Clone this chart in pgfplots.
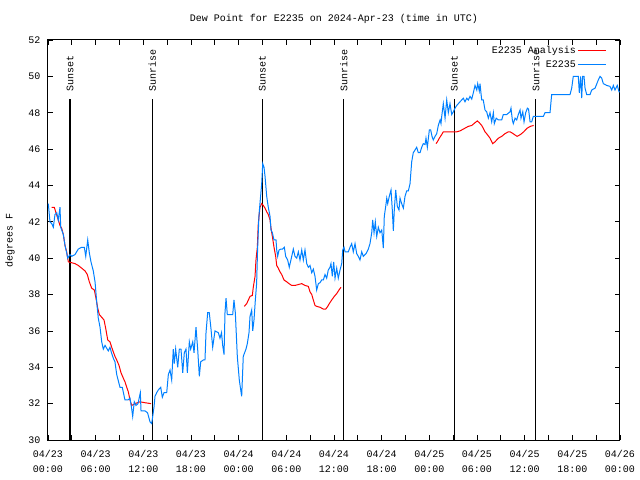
\documentclass[border=0pt]{standalone}
\usepackage{fontspec}
\setmainfont{Liberation Mono}
\usepackage{pgfplots}
\pgfplotsset{compat=1.18}
\definecolor{anred}{RGB}{255,0,0}
\definecolor{obsblue}{RGB}{0,128,255}
\begin{document}
\begin{tikzpicture}
\path[use as bounding box] (-48bp,-40bp) rectangle (592bp,440bp);
\begin{axis}[
  at={(0,0)}, anchor=south west,
  scale only axis, width=572bp, height=400bp,
  clip=false,
  xmin=0, xmax=72, ymin=30, ymax=52,
  xtick={0,6,...,72},
  xticklabels={{04/23\\00:00},{04/23\\06:00},{04/23\\12:00},{04/23\\18:00},{04/24\\00:00},{04/24\\06:00},{04/24\\12:00},{04/24\\18:00},{04/25\\00:00},{04/25\\06:00},{04/25\\12:00},{04/25\\18:00},{04/26\\00:00}},
  minor x tick num=1,
  ytick={30,32,...,52},
  tick align=inside,
  major tick length=5bp, minor tick length=5bp,
  every tick/.style={black, line width=0.8bp},
  axis line style={black, line width=1bp},
  /pgf/number format/assume math mode=true,
  font=\fontsize{10bp}{15bp}\selectfont,
  tick label style={font=\fontsize{10bp}{15bp}\selectfont},
  x tick label style={align=center, yshift=-7bp},
  y tick label style={xshift=-4bp},
  ylabel={degrees F},
  ylabel style={at={(axis description cs:-0.0664,0.5)}, anchor=center},
  legend style={at={(1,1)}, anchor=north east, xshift=-10bp, yshift=-2bp, draw=none, fill=none, row sep=1.5bp, font=\fontsize{10bp}{12bp}\selectfont},
  legend cell align=right,
  legend plot pos=right,
  legend image code/.code={\draw[#1] (0bp,0bp) -- (28bp,0bp);},
]
% sunrise / sunset lines
\addplot[black, line width=1.2bp, forget plot] coordinates {(2.77,30) (2.77,48.76)};
\addplot[black, line width=1.2bp, forget plot] coordinates {(13.13,30) (13.13,48.76)};
\addplot[black, line width=1.2bp, forget plot] coordinates {(26.98,30) (26.98,48.76)};
\addplot[black, line width=1.2bp, forget plot] coordinates {(37.22,30) (37.22,48.76)};
\addplot[black, line width=1.2bp, forget plot] coordinates {(51.15,30) (51.15,48.76)};
\addplot[black, line width=1.2bp, forget plot] coordinates {(61.39,30) (61.39,48.76)};
\node[rotate=90, anchor=west, inner sep=0pt] at (axis cs:2.77,49.14) {Sunset};
\node[rotate=90, anchor=west, inner sep=0pt] at (axis cs:13.13,49.14) {Sunrise};
\node[rotate=90, anchor=west, inner sep=0pt] at (axis cs:26.98,49.14) {Sunset};
\node[rotate=90, anchor=west, inner sep=0pt] at (axis cs:37.22,49.14) {Sunrise};
\node[rotate=90, anchor=west, inner sep=0pt] at (axis cs:51.15,49.14) {Sunset};
\node[rotate=90, anchor=west, inner sep=0pt] at (axis cs:61.39,49.14) {Sunrise};
% analysis
\addplot[anred, line width=1bp] coordinates {
(0.47,42.8) (0.79,42.8) (0.97,42.55) (1.22,42.2) (1.51,41.8) (1.72,41.65) (1.93,41.3) (2.14,40.7) (2.35,40.35) (2.56,39.8)
(2.98,39.75) (3.40,39.7) (3.81,39.6) (4.24,39.45) (4.66,39.3) (4.95,39.1) (5.20,38.7) (5.50,38.35) (5.83,38.25) (6.04,37.8)
(6.26,37.25) (6.46,36.9) (6.76,36.75) (7.05,36.6) (7.26,36.15) (7.52,35.5) (7.80,35.4) (8.02,35.1) (8.22,34.85) (8.43,34.6)
(8.65,34.4) (8.94,34.1) (9.19,33.7) (9.48,33.4) (9.69,33.2) (9.91,32.9) (10.11,32.65) (10.32,32.2) (10.54,31.9) (10.74,31.95)
(10.95,32.0) (11.58,32.1) (12.21,32.05) (12.97,32.0)};
\addlegendentry{E2235 Analysis}
\addplot[anred, line width=1bp, forget plot] coordinates {
(24.71,37.35) (25.01,37.5) (25.43,37.9) (25.72,37.95) (25.84,38.4) (26.06,39.0) (26.18,39.9) (26.35,40.6) (26.47,41.9) (26.68,42.8)
(26.90,43.0) (27.10,42.9) (27.32,42.75) (27.53,42.55) (27.73,42.4) (27.95,42.1) (28.07,41.65) (28.24,41.2) (28.45,40.6) (28.66,40.1)
(28.79,39.6) (28.99,39.45) (29.20,39.25) (29.42,39.1) (29.71,38.8) (30.05,38.7) (30.34,38.6) (30.68,38.5) (31.09,38.5) (31.51,38.55)
(31.94,38.6) (32.35,38.5) (32.77,38.45) (32.98,38.15) (33.20,38.0) (33.40,37.7) (33.61,37.4) (33.82,37.35) (34.24,37.3) (34.66,37.2)
(34.96,37.2) (35.21,37.35) (35.41,37.5) (35.71,37.7) (36.04,37.9) (36.34,38.05) (36.63,38.25) (36.88,38.4)};
\addplot[anred, line width=1bp, forget plot] coordinates {
(48.84,46.3) (49.01,46.4) (49.26,46.6) (49.56,46.8) (49.76,46.95) (50.23,46.95) (51.02,46.95) (51.45,46.95) (51.86,47.0) (52.07,47.05)
(52.49,47.15) (52.91,47.25) (53.34,47.3) (53.75,47.45) (54.04,47.55) (54.29,47.45) (54.59,47.3) (54.79,47.15) (55.01,46.95) (55.30,46.8)
(55.64,46.6) (55.98,46.3) (56.27,46.4) (56.69,46.6) (57.11,46.7) (57.53,46.85) (57.95,46.95) (58.16,46.95) (58.37,46.9) (58.71,46.8)
(59.05,46.7) (59.47,46.8) (59.88,46.95) (60.31,47.15) (60.72,47.25) (61.13,47.3)};
% observations
\addplot[obsblue, line width=1bp] coordinates {
(0.04,43.0) (0.25,42.0) (0.47,41.9) (0.67,41.7) (0.88,42.4) (1.10,42.5) (1.30,42.1) (1.51,42.8) (1.60,41.7) (1.93,41.3)
(2.14,40.7) (2.35,40.3) (2.48,40.0) (2.77,40.2) (2.98,40.1) (3.40,40.2) (3.81,40.5) (4.24,40.6) (4.57,40.6) (4.75,40.1)
(5.00,41.0) (5.20,40.3) (5.41,39.8) (5.70,39.3) (5.92,38.7) (6.13,37.6) (6.33,36.7) (6.55,36.2) (6.76,35.4) (6.96,35.0)
(7.18,35.2) (7.59,34.9) (7.80,35.1) (7.99,34.8) (8.22,34.5) (8.43,34.3) (8.65,33.6) (9.06,32.9) (9.35,32.9) (9.69,32.2)
(10.07,32.2) (10.32,32.3) (10.54,31.7) (10.66,31.3) (10.86,32.1) (11.08,31.9) (11.33,32.0) (11.62,32.6) (11.71,31.6) (12.21,31.6)
(12.53,31.5) (12.84,31.0) (13.05,30.9) (13.18,31.3) (13.34,31.8) (13.47,32.4) (13.68,32.6) (13.88,32.75) (14.19,32.9) (14.39,32.35)
(14.60,32.6) (14.94,32.6) (15.15,33.6) (15.36,33.85) (15.57,33.3) (15.77,35.0) (15.90,34.2) (16.07,35.0) (16.33,34.0) (16.53,35.0)
(16.74,35.0) (16.96,33.7) (17.16,34.8) (17.37,35.0) (17.54,33.7) (17.79,35.4) (17.96,35.0) (18.22,35.4) (18.38,34.8) (18.63,36.2)
(18.84,35.0) (19.05,33.5) (19.22,34.3) (19.55,34.4) (19.76,34.4) (19.89,35.9) (20.10,37.0) (20.30,37.0) (20.52,36.1) (20.73,35.1)
(21.02,36.0) (21.44,35.9) (21.65,35.6) (21.84,35.9) (21.99,35.2) (22.16,34.7) (22.28,37.0) (22.41,37.8) (22.57,36.9) (23.25,36.9)
(23.41,37.7) (23.58,37.0) (23.83,34.6) (24.08,33.3) (24.26,32.75) (24.38,32.4) (24.58,34.6) (24.92,35.0) (25.09,35.3) (25.30,35.9)
(25.43,36.8) (25.64,37.15) (25.77,36.0) (25.93,36.6) (26.10,37.7) (26.26,38.6) (26.38,40.45) (26.55,42.3) (26.68,43.0) (26.90,44.1)
(27.03,45.2) (27.19,45.0) (27.32,44.5) (27.53,43.4) (27.73,42.8) (27.95,42.3) (28.07,41.55) (28.24,41.4) (28.45,41.0) (28.70,41.0)
(28.79,40.45) (28.91,40.1) (29.08,40.45) (29.29,40.5) (29.52,40.5) (29.75,40.6) (29.92,40.1) (30.17,39.9) (30.37,39.5) (30.68,40.1)
(30.88,40.5) (31.09,40.1) (31.31,40.0) (31.51,40.35) (31.72,39.9) (31.94,40.45) (32.14,39.9) (32.35,40.45) (32.57,39.7) (32.77,39.5)
(32.98,39.6) (33.20,39.2) (33.40,39.4) (33.61,39.0) (33.82,38.25) (34.03,38.6) (34.24,38.65) (34.45,38.8) (34.66,38.8) (34.87,39.1)
(35.08,38.9) (35.28,39.35) (35.50,39.5) (35.62,39.7) (35.79,39.0) (35.96,39.8) (36.13,38.9) (36.34,39.45) (36.54,38.9) (36.76,39.35)
(36.97,39.7) (37.10,40.45) (37.26,40.6) (37.39,40.35) (37.80,40.35) (38.02,40.6) (38.23,40.8) (38.43,40.35) (38.65,40.8) (38.86,40.25)
(39.06,40.1) (39.27,39.9) (39.49,40.35) (39.69,40.1) (40.03,40.25) (40.32,40.5) (40.53,40.8) (40.75,41.4) (40.87,42.1) (41.04,41.4)
(41.20,42.0) (41.38,41.2) (41.58,41.7) (41.79,41.4) (42.01,41.55) (42.21,40.55) (42.33,42.3) (42.51,42.85) (42.64,43.3) (42.76,43.0)
(42.96,43.4) (43.18,43.75) (43.34,42.65) (43.47,41.5) (43.59,42.65) (43.77,43.75) (43.97,42.85) (44.18,42.65) (44.31,43.3) (44.52,43.0)
(44.73,42.75) (44.94,43.4) (45.15,43.7) (45.36,43.7) (45.57,44.1) (45.78,45.3) (45.98,45.8) (46.20,45.95) (46.41,46.1) (46.61,45.8)
(46.83,45.8) (47.04,46.1) (47.24,46.3) (47.46,46.25) (47.58,46.6) (47.75,46.1) (48.00,47.05) (48.17,47.05) (48.34,46.7) (48.50,46.5)
(48.72,46.7) (48.93,46.85) (49.13,47.3) (49.35,47.6) (49.47,47.4) (49.56,47.8) (49.76,48.5) (49.98,47.7) (50.19,48.7) (50.39,48.0)
(50.60,48.5) (50.82,47.9) (51.02,48.05) (51.23,48.25) (51.45,48.4) (51.86,48.6) (52.28,48.8) (52.49,48.6) (52.71,48.8) (52.91,48.7)
(53.12,48.9) (53.34,48.75) (53.54,49.1) (53.75,49.5) (53.97,49.25) (54.09,49.6) (54.29,49.2) (54.38,49.6) (54.59,48.7) (54.79,48.7)
(55.01,48.15) (55.22,48.05) (55.43,47.7) (55.64,48.0) (55.85,47.5) (56.06,48.0) (56.18,47.4) (56.42,47.7) (56.69,47.6) (57.11,47.6)
(57.31,47.9) (57.74,47.9) (58.16,48.05) (58.28,48.25) (58.45,47.6) (58.57,47.4) (58.79,47.7) (59.00,47.6) (59.20,47.9) (59.42,48.15)
(59.54,47.7) (59.76,48.05) (59.92,47.5) (60.13,48.0) (60.34,48.25) (60.49,48.2) (60.68,47.5) (60.89,47.5) (61.02,47.7) (61.10,47.8)
(62.35,47.8) (62.56,48.0) (63.19,48.0) (63.40,49.0) (65.71,49.0) (65.92,49.35) (66.12,50.0) (66.75,50.0) (66.88,49.1) (67.05,50.0)
(67.18,48.8) (67.30,50.0) (67.47,50.0) (67.60,49.35) (67.81,49.0) (68.23,49.0) (68.44,49.25) (68.86,49.35) (69.27,49.8) (69.49,50.0)
(69.70,49.9) (69.90,49.6) (70.33,49.5) (70.74,49.45) (70.96,49.25) (71.16,49.5) (71.37,49.25) (71.66,49.5) (71.88,49.15) (72.0,49.15)};
\addlegendentry{E2235}
\node[anchor=center] at (axis description cs:0.5,1) [yshift=21bp] {Dew Point for E2235 on 2024-Apr-23 (time in UTC)};
\end{axis}
\end{tikzpicture}
\end{document}
